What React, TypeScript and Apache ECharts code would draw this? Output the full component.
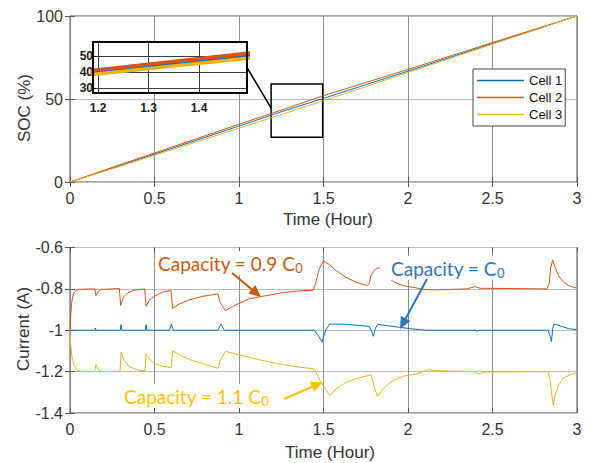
import { useEffect, useRef } from 'react';
import * as echarts from 'echarts';

// State of charge of the three cells (%)
const socTime = [0, 0.25, 0.5, 0.75, 1, 1.25, 1.5, 1.75, 2, 2.25, 2.5, 2.75, 3];
const socCell1 = [0, 8.4, 16.8, 25.2, 33.7, 42.3, 50.4, 58.6, 66.8, 75.1, 83.4, 91.7, 100];
const socCell2 = [0, 8.8, 17.5, 26.1, 34.8, 43.3, 52.0, 59.9, 67.8, 75.9, 84.0, 92.0, 100];
const socCell3 = [0, 8.0, 16.1, 24.2, 32.4, 40.6, 49.0, 57.4, 66.0, 74.5, 83.0, 91.5, 100];

// Cell currents (A)
const curTime1 = [0, 0.146, 0.15, 0.154, 0.298, 0.302, 0.308, 0.446, 0.45, 0.456, 0.588, 0.6, 0.611, 0.874, 0.893, 0.913,
  1.446, 1.471, 1.491, 1.514, 1.538, 1.633, 1.771, 1.785, 1.795, 1.806, 1.82, 1.909, 2.008, 2.071, 2.11,
  2.4, 2.41, 2.42, 2.829, 2.841, 2.849, 2.856, 2.864, 2.9, 2.949, 3.0];
const curCell1 = [-1.0, -1.0, -0.989, -1.0, -1.0, -0.973, -1.0, -1.0, -0.973, -1.0, -1.0, -0.97, -1.0, -1.0, -0.97, -1.0,
  -1.0, -1.029, -1.058, -0.997, -0.97, -0.971, -0.981, -1.005, -1.029, -0.993, -0.972, -0.981, -0.992, -0.997, -1.0,
  -1.0, -1.004, -1.0, -1.0, -1.029, -1.055, -0.993, -0.97, -0.979, -0.992, -0.998];

const curTime2 = [0, 0.004, 0.01, 0.02, 0.035, 0.055, 0.146, 0.154, 0.166, 0.183, 0.292, 0.3, 0.316, 0.341, 0.381, 0.442,
  0.45, 0.469, 0.499, 0.548, 0.598, 0.607, 0.647, 0.706, 0.785, 0.876, 0.888, 0.919, 0.982, 1.061, 1.14,
  1.238, 1.337, 1.44, 1.455, 1.475, 1.499, 1.534, 1.574, 1.633, 1.692, 1.761, 1.771, 1.781, 1.801, 1.826,
  1.845, 1.875, 1.909, 1.968, 2.047, 2.071, 2.15, 2.347, 2.397, 2.426, 2.821, 2.835, 2.845, 2.856, 2.87,
  2.89, 2.92, 2.959, 3.0];
const curCell2 = [-1.0, -0.937, -0.865, -0.824, -0.808, -0.802, -0.8, -0.832, -0.813, -0.803, -0.798, -0.881, -0.84, -0.819, -0.806, -0.8,
  -0.884, -0.856, -0.835, -0.816, -0.808, -0.894, -0.873, -0.853, -0.836, -0.824, -0.865, -0.905, -0.877, -0.848, -0.836,
  -0.821, -0.811, -0.806, -0.768, -0.703, -0.665, -0.682, -0.711, -0.744, -0.768, -0.784, -0.773, -0.735, -0.708, -0.698,
  -0.705, -0.735, -0.763, -0.784, -0.795, -0.8, -0.805, -0.8, -0.789, -0.797, -0.8, -0.776, -0.695, -0.66, -0.695,
  -0.735, -0.768, -0.787, -0.797];

const curTime3 = [0, 0.004, 0.012, 0.024, 0.039, 0.065, 0.146, 0.154, 0.164, 0.183, 0.296, 0.302, 0.321, 0.351, 0.4, 0.444,
  0.45, 0.469, 0.499, 0.548, 0.6, 0.607, 0.657, 0.726, 0.805, 0.876, 0.888, 0.919, 0.982, 1.1, 1.219,
  1.337, 1.446, 1.475, 1.505, 1.538, 1.574, 1.633, 1.692, 1.781, 1.801, 1.82, 1.85, 1.909, 1.968, 2.047,
  2.091, 2.121, 2.15, 2.387, 2.416, 2.456, 2.829, 2.841, 2.853, 2.86, 2.87, 2.89, 2.92, 2.959, 3.0];
const curCell3 = [-1.0, -1.066, -1.131, -1.171, -1.191, -1.199, -1.2, -1.166, -1.187, -1.199, -1.2, -1.107, -1.147, -1.176, -1.192, -1.197,
  -1.115, -1.139, -1.16, -1.174, -1.181, -1.099, -1.123, -1.147, -1.166, -1.184, -1.147, -1.102, -1.115, -1.139, -1.16,
  -1.176, -1.187, -1.236, -1.276, -1.316, -1.284, -1.252, -1.234, -1.216, -1.276, -1.321, -1.284, -1.244, -1.223, -1.212,
  -1.2, -1.189, -1.195, -1.2, -1.211, -1.202, -1.2, -1.244, -1.325, -1.365, -1.316, -1.268, -1.231, -1.215, -1.205];

const cellNames = ['Cell 1', 'Cell 2', 'Cell 3'];
const insetXTicks = [1.2, 1.3, 1.4];
const insetYTicks = [30, 40, 50];
const zoomX = [1.19, 1.495];
const zoomY = [27, 59];

const COLORS = ['#0072BD', '#D95319', '#EDB120'];
const FONT = 'Liberation Sans';
const TICK_COLOR = '#333333';
const BOX_COLOR = '#555555';

const TOP = { left: 70, top: 16, width: 507, height: 166 };
const BOTTOM = { left: 70, top: 247.5, width: 507, height: 165.5 };
const INSET = { left: 93, top: 42, width: 154, height: 51 };

const pairs = (xs: number[], ys: number[]) => xs.map((x, i) => [x, ys[i]]);

const mainX = (gridIndex: number, withLabels: boolean) => ({
  type: 'value', gridIndex, min: 0, max: 3, interval: 0.5,
  position: withLabels ? 'bottom' : 'top',
  axisLine: { show: false },
  axisTick: { show: true, inside: true, length: 5, lineStyle: { color: BOX_COLOR } },
  axisLabel: { show: withLabels, fontSize: 16, color: TICK_COLOR, fontFamily: FONT, margin: 8 },
  splitLine: { show: withLabels, lineStyle: { color: '#8c8c8c', width: 1 } },
});

const mainY = (gridIndex: number, min: number, max: number, interval: number, withLabels: boolean) => ({
  type: 'value', gridIndex, min, max, interval,
  position: withLabels ? 'left' : 'right',
  axisLine: { show: false },
  axisTick: { show: true, inside: true, length: 5, lineStyle: { color: BOX_COLOR } },
  axisLabel: { show: withLabels, fontSize: 16, color: TICK_COLOR, fontFamily: FONT, margin: 7 },
  splitLine: { show: withLabels, lineStyle: { color: '#bcbcbc', width: 1 } },
});

function arrow(x1: number, y1: number, x2: number, y2: number, color: string) {
  const ang = Math.atan2(y2 - y1, x2 - x1);
  const c = Math.cos(ang);
  const s = Math.sin(ang);
  const headLen = 12;
  const headHalf = 5.5;
  const bx = x2 - headLen * c;
  const by = y2 - headLen * s;
  return [
    { type: 'line', z: 40, shape: { x1, y1, x2: bx + 2 * c, y2: by + 2 * s }, style: { stroke: color, lineWidth: 2 } },
    {
      type: 'polygon', z: 40,
      shape: { points: [[x2, y2], [bx - s * headHalf, by + c * headHalf], [bx + s * headHalf, by - c * headHalf]] },
      style: { fill: color },
    },
  ];
}

function capacityLabel(x: number, y: number, main: string, color: string, padLeft: number) {
  return {
    type: 'text', x, y, z: 35,
    style: {
      text: `{m|${main}}{s|0}`,
      rich: {
        m: { fontSize: 19, fontFamily: 'Lato', fill: color, lineHeight: 22 },
        s: { fontSize: 13, fontFamily: 'Lato', fill: color, lineHeight: 13, verticalAlign: 'bottom' },
      },
      backgroundColor: '#ffffff',
      padding: [1, 3, 1, padLeft],
      align: 'left',
      verticalAlign: 'middle',
    },
  };
}

function axisName(x: number, y: number, text: string, rotated: boolean) {
  return {
    type: 'text', x, y, z: 10, rotation: rotated ? Math.PI / 2 : 0,
    style: { text, fontSize: 17, fontFamily: FONT, fill: TICK_COLOR, align: 'center', verticalAlign: 'middle' },
  };
}

export default function App() {
  const ref = useRef<HTMLDivElement>(null);

  useEffect(() => {
    if (!ref.current) return;
    const chart = echarts.init(ref.current, null, { renderer: 'svg' });

    const socSeries = [socCell1, socCell2, socCell3].map((vals, i) => ({
      name: cellNames[i],
      type: 'line',
      xAxisIndex: 0,
      yAxisIndex: 0,
      data: pairs(socTime, vals),
      symbol: 'none',
      lineStyle: { width: 1, color: COLORS[i] },
      itemStyle: { color: COLORS[i] },
      z: 2,
      ...(i === 2
        ? {
            markArea: {
              silent: true,
              itemStyle: { color: 'rgba(0,0,0,0)', borderColor: '#000', borderWidth: 1.5 },
              data: [[{ xAxis: zoomX[0], yAxis: zoomY[0] }, { xAxis: zoomX[1], yAxis: zoomY[1] }]],
            },
          }
        : {}),
    }));

    const currentSeries = [pairs(curTime1, curCell1), pairs(curTime2, curCell2), pairs(curTime3, curCell3)].map(
      (data, i) => ({
        name: `${cellNames[i]} current`,
        type: 'line',
        xAxisIndex: 2,
        yAxisIndex: 2,
        data,
        symbol: 'none',
        lineStyle: { width: 1, color: COLORS[i] },
        z: 2,
      })
    );

    const insetSeries = [socCell1, socCell2, socCell3].map((vals, i) => ({
      name: `${cellNames[i]} detail`,
      type: 'line',
      xAxisIndex: 4,
      yAxisIndex: 4,
      data: pairs(socTime, vals),
      symbol: 'none',
      clip: true,
      lineStyle: { width: 3.6, color: COLORS[i] },
      z: 6,
    }));

    chart.setOption({
      animation: false,
      backgroundColor: '#ffffff',
      textStyle: { fontFamily: FONT },
      grid: [
        { ...TOP, show: true, borderColor: BOX_COLOR, borderWidth: 1, backgroundColor: 'transparent' },
        { ...BOTTOM, show: true, borderColor: BOX_COLOR, borderWidth: 1, backgroundColor: 'transparent' },
        { ...INSET, show: false },
      ],
      xAxis: [
        mainX(0, true),
        mainX(0, false),
        mainX(1, true),
        mainX(1, false),
        {
          type: 'value', gridIndex: 2, min: zoomX[0], max: zoomX[1], z: 5,
          axisLine: { show: false },
          axisTick: { show: true, inside: true, length: 3, customValues: insetXTicks, lineStyle: { color: '#000' } },
          axisLabel: {
            customValues: insetXTicks, fontSize: 12, fontWeight: 'bold', color: '#1a1a1a', fontFamily: FONT, margin: 9,
            formatter: (v: number) => v.toFixed(1),
          },
          splitLine: { show: true, lineStyle: { color: '#3a3a3a', width: 1 } },
        },
      ],
      yAxis: [
        mainY(0, 0, 100, 50, true),
        mainY(0, 0, 100, 50, false),
        mainY(1, -1.4, -0.6, 0.2, true),
        mainY(1, -1.4, -0.6, 0.2, false),
        {
          type: 'value', gridIndex: 2, min: zoomY[0], max: zoomY[1], z: 5,
          axisLine: { show: false },
          axisTick: { show: true, inside: true, length: 3, customValues: insetYTicks, lineStyle: { color: '#000' } },
          axisLabel: { customValues: insetYTicks, fontSize: 12, fontWeight: 'bold', color: '#1a1a1a', fontFamily: FONT, margin: 0 },
          splitLine: { show: true, lineStyle: { color: '#3a3a3a', width: 1 } },
        },
      ],
      legend: {
        data: cellNames.map((name) => ({ name, icon: 'rect' })),
        orient: 'vertical',
        left: 473,
        top: 69,
        padding: [4, 3, 4, 4],
        itemGap: 2,
        itemWidth: 47,
        itemHeight: 1.5,
        backgroundColor: '#ffffff',
        borderColor: '#444',
        borderWidth: 1,
        borderRadius: 0,
        textStyle: { fontSize: 13, color: '#111', fontFamily: FONT, lineHeight: 15 },
      },
      series: [...socSeries, ...currentSeries, ...insetSeries],
    });

    // The detail view's connector joins its right edge to the zoom box in the main axes.
    const fromPt = chart.convertToPixel({ gridIndex: 2 }, [zoomX[1], 43]) as number[];
    const toPt = chart.convertToPixel({ gridIndex: 0 }, [zoomX[0], 44.5]) as number[];

    chart.setOption({
      graphic: {
        elements: [
          {
            type: 'rect', z: 3, silent: true,
            shape: { x: INSET.left, y: INSET.top, width: INSET.width, height: INSET.height },
            style: { fill: '#ffffff' },
          },
          {
            type: 'rect', z: 8, silent: true,
            shape: { x: INSET.left, y: INSET.top, width: INSET.width, height: INSET.height },
            style: { fill: 'none', stroke: '#000', lineWidth: 2 },
          },
          {
            type: 'line', z: 8, silent: true,
            shape: { x1: fromPt[0], y1: fromPt[1], x2: toPt[0], y2: toPt[1] },
            style: { stroke: '#000', lineWidth: 1.5 },
          },
          axisName(24, 108, 'SOC (%)', true),
          axisName(23, 329, 'Current (A)', true),
          axisName(328, 219, 'Time (Hour)', false),
          axisName(330, 452, 'Time (Hour)', false),
          capacityLabel(155, 263, 'Capacity = 0.9 C', '#C55A11', 3),
          capacityLabel(380, 268, 'Capacity = C', '#2E75B6', 11),
          capacityLabel(121, 396, 'Capacity = 1.1 C', '#FFC000', 3),
          ...arrow(232, 273, 261, 297, '#C55A11'),
          ...arrow(427, 279, 400, 329, '#2E75B6'),
          ...arrow(284, 399, 323, 382, '#FFC000'),
        ],
      },
    });

    return () => chart.dispose();
  }, []);

  return <div ref={ref} style={{ position: 'fixed', left: 0, top: 0, width: 589, height: 463 }} />;
}
